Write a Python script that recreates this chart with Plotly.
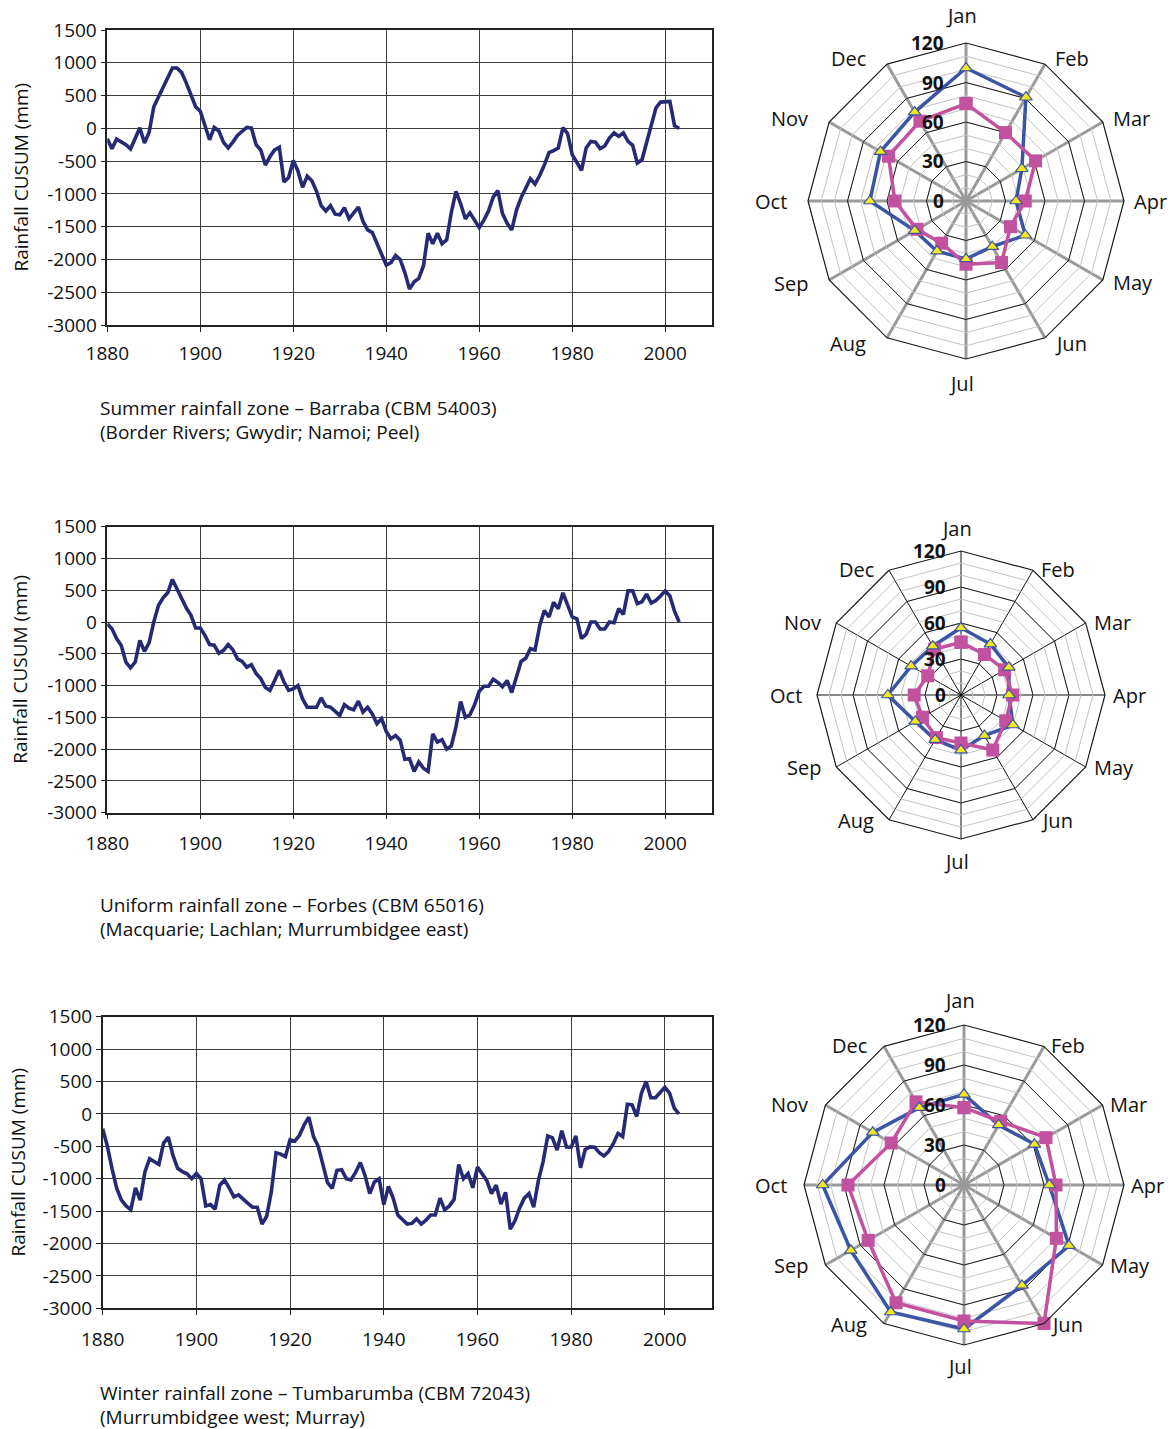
import math
import plotly.graph_objects as go

W, H = 1168, 1429
FONT = "Open Sans"
LINE_NAVY = "#262a74"
BLUE = "#3a55a6"
PINK = "#c2519f"
YELLOW = "#f3e81a"

# ---------------- data ----------------
years = list(range(1880, 2004))

cusum_barraba = [
    -160, -310, -165, -200, -250, -315, -140, 10, -225, -60,
    330, 470, 620, 750, 920, 920, 850, 690, 500, 330,
    260, 40, -175, 15, -40, -215, -300, -210, -110, -45,
    15, 5, -250, -330, -560, -430, -330, -290, -820, -750,
    -490, -650, -900, -730, -800, -960, -1180, -1260, -1180, -1310,
    -1320, -1210, -1380, -1290, -1200, -1420, -1550, -1590, -1740, -1920,
    -2085, -2050, -1940, -2000, -2200, -2450, -2340, -2290, -2100, -1600,
    -1760, -1600, -1760, -1700, -1280, -960, -1150, -1380, -1290, -1400,
    -1515, -1400, -1260, -1050, -950, -1300, -1450, -1550, -1250, -1060,
    -900, -770, -850, -720, -560, -370, -340, -300, 10, -80,
    -400, -520, -640, -300, -200, -210, -310, -270, -150, -70,
    -120, -70, -200, -260, -530, -480, -200, 40, 310, 400,
    410, 410, 40, 0,
]

cusum_forbes = [
    -30, -105, -260, -370, -630, -720, -630, -290, -460, -325,
    0, 260, 380, 460, 670, 525, 360, 220, 105, -95,
    -95, -210, -355, -365, -490, -445, -355, -435, -580, -620,
    -710, -670, -810, -890, -1030, -1075, -920, -760, -945, -1075,
    -1050, -1000, -1210, -1340, -1340, -1340, -1195, -1325, -1340, -1415,
    -1470, -1300, -1355, -1380, -1245, -1415, -1340, -1445, -1600, -1520,
    -1720, -1835, -1785, -1860, -2160, -2150, -2350, -2200, -2300, -2350,
    -1760, -1890, -1850, -2000, -1950, -1650, -1250, -1500, -1460, -1300,
    -1090, -1010, -1010, -900, -950, -1020, -920, -1110, -860, -620,
    -570, -420, -440, -60, 180, 80, 310, 210, 460, 250,
    80, 50, -260, -190, 0, 0, -110, -110, 0, -10,
    210, 120, 490, 490, 290, 320, 440, 300, 340, 410,
    490, 410, 170, 0,
]

cusum_tumbarumba = [
    -230, -500, -850, -1150, -1330, -1420, -1480, -1140, -1330, -900,
    -690, -740, -780, -450, -360, -640, -840, -890, -925, -1000,
    -920, -1000, -1420, -1400, -1470, -1100, -1020, -1140, -1280, -1250,
    -1320, -1380, -1440, -1440, -1700, -1580, -1200, -600, -620, -660,
    -400, -420, -330, -170, -50, -350, -500, -800, -1060, -1150,
    -870, -860, -1000, -1020, -900, -750, -950, -1230, -1050, -1000,
    -1400, -1120, -1300, -1560, -1640, -1700, -1690, -1620, -1700, -1640,
    -1560, -1560, -1300, -1480, -1420, -1320, -780, -1000, -920, -1140,
    -820, -930, -1030, -1230, -1100, -1390, -1210, -1780, -1650, -1450,
    -1300, -1230, -1440, -1030, -740, -340, -370, -560, -260, -510,
    -514, -340, -830, -550, -510, -514, -600, -650, -580, -460,
    -300, -350, 150, 140, -40, 320, 500, 250, 250, 330,
    410, 320, 90, 0,
]

year_ticks = [1880, 1900, 1920, 1940, 1960, 1980, 2000]
cusum_ticks = [1500, 1000, 500, 0, -500, -1000, -1500, -2000, -2500, -3000]

months = ["Jan", "Feb", "Mar", "Apr", "May", "Jun",
          "Jul", "Aug", "Sep", "Oct", "Nov", "Dec"]
radial_ticks = [0, 30, 60, 90, 120]

barraba_a = [101, 91, 49, 38, 52, 40, 44, 44, 45, 73, 75, 78]
barraba_b = [74, 60, 61, 45, 39, 54, 48, 37, 43, 54, 68, 70]
forbes_a = [56, 49, 46, 40, 50, 39, 46, 43, 44, 61, 48, 47]
forbes_b = [44, 39, 42, 43, 43, 53, 40, 41, 37, 39, 32, 44]
tumbarumba_a = [68, 52, 61, 64, 91, 87, 108, 110, 98, 106, 79, 67]
tumbarumba_b = [58, 55, 71, 69, 80, 120, 102, 102, 83, 87, 63, 72]

captions = [
    ("Summer rainfall zone \u2013 Barraba (CBM 54003)",
     "(Border Rivers; Gwydir; Namoi; Peel)"),
    ("Uniform rainfall zone \u2013 Forbes (CBM 65016)",
     "(Macquarie; Lachlan; Murrumbidgee east)"),
    ("Winter rainfall zone \u2013 Tumbarumba (CBM 72043)",
     "(Murrumbidgee west; Murray)"),
]


# ---------------- layout helpers (pixel -> paper) ----------------
def fx(p):
    return p / W


def fy(p):
    return 1 - p / H


# panel geometry in pixels: line-plot box, radar centre/radius, label gaps
panels = [
    dict(x0=107.3, x1=711.7, y0=30.0, y1=325.0,
         cx=966, cy=201, r=158, lab_gap=20, cap=(408, 432),
         mgap_l=19, mgap_r=8, mgap_t=27, mgap_b=24, mdy=-6,
         spoke="#9a9a9a", spoke_w=2.5,
         series=cusum_barraba, a=barraba_a, b=barraba_b),
    dict(x0=107.3, x1=711.7, y0=526.7, y1=812.7,
         cx=961, cy=695, r=144, lab_gap=13, cap=(905, 929),
         mgap_l=13, mgap_r=6, mgap_t=23, mgap_b=22, mdy=-1,
         spoke="#111111", spoke_w=1,
         series=cusum_forbes, a=forbes_a, b=forbes_b),
    dict(x0=102.7, x1=711.7, y0=1016.7, y1=1308.3,
         cx=964, cy=1185, r=160, lab_gap=16, cap=(1393, 1417),
         mgap_l=15, mgap_r=5, mgap_t=25, mgap_b=21, mdy=-1,
         spoke="#9a9a9a", spoke_w=2.5,
         series=cusum_tumbarumba, a=tumbarumba_a, b=tumbarumba_b),
]

fig = go.Figure()
layout = dict(
    width=W, height=H, margin=dict(l=0, r=0, t=0, b=0, autoexpand=False),
    paper_bgcolor="white", plot_bgcolor="white",
    showlegend=False, font=dict(family=FONT, color="#111"),
    annotations=[],
)

ring_theta = months + [months[0]]


def note(text, xp, yp, xanchor="center", yanchor="middle", size=19,
         weight="normal", angle=0):
    layout["annotations"].append(dict(
        text=text, x=fx(xp), y=fy(yp), xref="paper", yref="paper",
        showarrow=False, xanchor=xanchor, yanchor=yanchor, textangle=angle,
        font=dict(size=size, family=FONT, color="#111", weight=weight)))


for i, p in enumerate(panels, start=1):
    xa = "x" if i == 1 else f"x{i}"
    ya = "y" if i == 1 else f"y{i}"
    pol = "polar" if i == 1 else f"polar{i}"

    # CUSUM line
    fig.add_trace(go.Scatter(
        x=years, y=p["series"], mode="lines",
        line=dict(color=LINE_NAVY, width=3.6),
        xaxis=xa, yaxis=ya, hoverinfo="skip"))

    axis_common = dict(
        showline=True, linecolor="#222", linewidth=1.5, mirror=True,
        showgrid=True, gridcolor="#3c3c3c", gridwidth=1.2,
        ticks="outside", ticklen=5, tickcolor="#222",
        tickfont=dict(size=19, family=FONT, color="#111"),
        zeroline=False, fixedrange=True, automargin=False,
    )
    layout["xaxis" if i == 1 else f"xaxis{i}"] = dict(
        axis_common, domain=[fx(p["x0"]), fx(p["x1"])],
        range=[1880, 2010], tickvals=year_ticks,
        ticktext=[str(v) for v in year_ticks],
        ticklabelstandoff=5 if i == 1 else 8,
        anchor=ya)
    layout["yaxis" if i == 1 else f"yaxis{i}"] = dict(
        axis_common, domain=[fy(p["y1"]), fy(p["y0"])],
        range=[-3000, 1500], tickvals=cusum_ticks,
        ticktext=[str(v) for v in cusum_ticks],
        anchor=xa)

    # y-axis title and captions
    note("Rainfall CUSUM (mm)", 20 if i < 3 else 17,
         (p["y0"] + p["y1"]) / 2, angle=-90)
    for txt, ypx in zip(captions[i - 1], p["cap"]):
        note(txt, 98, ypx, xanchor="left")

    # radial scale labels, stacked beside the Jan spoke
    for v in radial_ticks:
        note(str(v), p["cx"] - p["lab_gap"], p["cy"] - p["r"] * v / 120,
             xanchor="right", weight="bold")

    # month labels around the outer polygon
    for k, m in enumerate(months):
        th = math.radians(30 * k)
        s, c = math.sin(th), math.cos(th)
        vx = p["cx"] + p["r"] * s
        vy = p["cy"] - p["r"] * c
        if abs(s) < 0.01:
            yy = vy - p["mgap_t"] if c > 0 else vy + p["mgap_b"]
            note(m, p["cx"] - 5, yy, size=20)
        elif s > 0:
            note(m, vx + p["mgap_r"], vy + p["mdy"] * c,
                 xanchor="left", size=20)
        else:
            note(m, vx - p["mgap_l"], vy + p["mdy"] * c,
                 xanchor="right", size=20)

    # radar: major rings
    for rv in radial_ticks[1:-1]:
        fig.add_trace(go.Scatterpolar(
            r=[rv] * 13, theta=ring_theta, mode="lines",
            line=dict(color="#1a1a1a", width=1), subplot=pol,
            hoverinfo="skip"))

    # radar series
    fig.add_trace(go.Scatterpolar(
        r=p["a"] + [p["a"][0]], theta=ring_theta, mode="lines",
        line=dict(color=BLUE, width=3.5), subplot=pol, hoverinfo="skip"))
    fig.add_trace(go.Scatterpolar(
        r=p["b"] + [p["b"][0]], theta=ring_theta, mode="lines+markers",
        line=dict(color=PINK, width=3.5),
        marker=dict(symbol="square", size=13, color=PINK),
        subplot=pol, hoverinfo="skip"))
    fig.add_trace(go.Scatterpolar(
        r=p["a"], theta=months, mode="markers",
        marker=dict(symbol="triangle-up", size=11, color=YELLOW,
                    line=dict(color=BLUE, width=1.2)),
        subplot=pol, hoverinfo="skip"))

    layout[pol] = dict(
        domain=dict(x=[fx(p["cx"] - p["r"]), fx(p["cx"] + p["r"])],
                    y=[fy(p["cy"] + p["r"]), fy(p["cy"] - p["r"])]),
        gridshape="linear", bgcolor="white",
        angularaxis=dict(
            type="category", categoryarray=months,
            direction="clockwise", rotation=90,
            showline=True, linecolor="#1a1a1a", linewidth=1.2,
            showgrid=True, gridcolor=p["spoke"], gridwidth=p["spoke_w"],
            ticks="", showticklabels=False),
        radialaxis=dict(
            range=[0, 120], tickvals=list(range(0, 121, 10)),
            showticklabels=False, angle=90,
            showline=False, ticks="",
            showgrid=True, gridcolor="#c4c4c4", gridwidth=1),
    )

fig.update_layout(**layout)
fig.write_html("out.html")
